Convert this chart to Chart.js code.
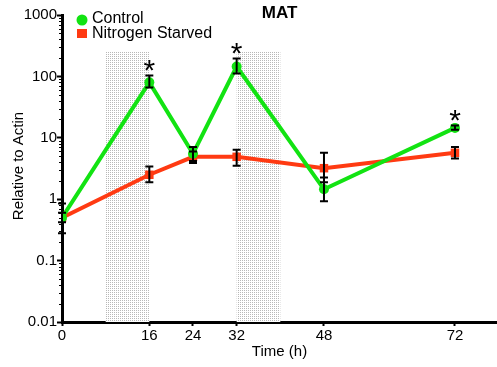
<!DOCTYPE html>
<html>
<head>
<meta charset="utf-8">
<title>MAT</title>
<script src="https://cdn.jsdelivr.net/npm/chart.js@4.4.1/dist/chart.umd.min.js"></script>
<style>
  html, body { margin: 0; padding: 0; background: #fff; }
  #wrap { width: 497px; height: 367px; position: relative; }
</style>
</head>
<body>
<div id="wrap"><canvas id="chart" width="497" height="367"></canvas></div>
<script>
// Expression of MAT relative to actin over time (log scale)
const hours = [0, 16, 24, 32, 48, 72];
const xTickValues = [0, 16, 24, 32, 48, 72];
const yTickValues = [0.01, 0.1, 1, 10, 100, 1000];
const yTickLabels = ['0.01', '0.1', '1', '10', '100', '1000'];

const seriesNames = ['Control', 'Nitrogen Starved'];
const controlMean = [0.5, 80, 5.5, 145, 1.45, 14.5];
const controlLow  = [0.42, 66, 4.2, 112, 0.93, 13.5];
const controlHigh = [0.6, 103, 7.1, 195, 2.26, 15.8];

const starvedMean = [0.5, 2.5, 4.9, 4.9, 3.2, 5.7];
const starvedLow  = [0.28, 1.88, 3.9, 3.5, 1.88, 4.6];
const starvedHigh = [0.85, 3.4, 6.0, 6.4, 5.7, 7.1];

// hours at which the control differs significantly
const significantHours = [16, 32, 72];

// dark periods (hours) shown as stippled bands
const darkStart = [8, 32];
const darkEnd   = [16, 40];
const darkTop = 250;

const GREEN = '#12e312';
const RED = '#ff3a12';
const FONT = "'Liberation Sans', Arial, sans-serif";

function points(means) {
  return hours.map((h, i) => ({ x: h, y: means[i] }));
}

// stipple pattern for the dark bands
function makeStipple(ctx) {
  const c = document.createElement('canvas');
  c.width = 2; c.height = 2;
  const p = c.getContext('2d');
  p.fillStyle = '#ffffff';
  p.fillRect(0, 0, 2, 2);
  p.fillStyle = '#b8b8b8';
  p.fillRect(0, 0, 1, 1);
  return ctx.createPattern(c, 'repeat');
}

const bandsPlugin = {
  id: 'bands',
  beforeDatasetsDraw(chart) {
    const { ctx, scales: { x, y } } = chart;
    ctx.save();
    ctx.fillStyle = makeStipple(ctx);
    for (let i = 0; i < darkStart.length; i++) {
      const x0 = x.getPixelForValue(darkStart[i]);
      const x1 = x.getPixelForValue(darkEnd[i]);
      const y0 = y.getPixelForValue(darkTop);
      const y1 = y.getPixelForValue(0.01);
      ctx.fillRect(x0, y0, x1 - x0, y1 - y0);
    }
    ctx.restore();
  }
};

const errorPlugin = {
  id: 'errorBars',
  afterDatasetsDraw(chart) {
    const { ctx, scales: { x, y } } = chart;
    const sets = [[starvedLow, starvedHigh], [controlLow, controlHigh]];
    ctx.save();
    ctx.strokeStyle = '#000';
    ctx.lineWidth = 2;
    const cap = 4;
    sets.forEach(([lo, hi]) => {
      hours.forEach((h, i) => {
        const px = x.getPixelForValue(h);
        const pl = y.getPixelForValue(lo[i]);
        const ph = y.getPixelForValue(hi[i]);
        ctx.beginPath();
        ctx.moveTo(px, pl); ctx.lineTo(px, ph);
        ctx.moveTo(px - cap, pl); ctx.lineTo(px + cap, pl);
        ctx.moveTo(px - cap, ph); ctx.lineTo(px + cap, ph);
        ctx.stroke();
      });
    });
    // significance markers above the control error bars
    ctx.fillStyle = '#000';
    ctx.font = '30px ' + FONT;
    ctx.textAlign = 'center';
    ctx.textBaseline = 'alphabetic';
    significantHours.forEach(h => {
      const i = hours.indexOf(h);
      const px = x.getPixelForValue(h);
      const py = y.getPixelForValue(controlHigh[i]) - 13;
      ctx.fillText('*', px, py + 17);
    });
    ctx.restore();
  }
};

const decorPlugin = {
  id: 'decor',
  afterDraw(chart) {
    const { ctx, chartArea, scales: { y } } = chart;
    ctx.save();
    // minor ticks on the log axis
    ctx.strokeStyle = '#000';
    ctx.lineWidth = 1;
    for (let d = -2; d < 3; d++) {
      for (let m = 2; m < 10; m++) {
        const py = Math.round(y.getPixelForValue(m * Math.pow(10, d))) + 0.5;
        ctx.beginPath();
        ctx.moveTo(chartArea.left - 3, py);
        ctx.lineTo(chartArea.left, py);
        ctx.stroke();
      }
    }
    // title
    ctx.fillStyle = '#000';
    ctx.textAlign = 'center';
    ctx.textBaseline = 'middle';
    ctx.font = 'bold 17px ' + FONT;
    ctx.fillText('MAT', (chartArea.left + chartArea.right) / 2, 13);
    // axis titles
    ctx.font = '15px ' + FONT;
    ctx.fillText('Time (h)', (chartArea.left + chartArea.right) / 2, 352);
    ctx.save();
    ctx.translate(19, 166);
    ctx.rotate(-Math.PI / 2);
    ctx.fillText('Relative to Actin', 0, 0);
    ctx.restore();
    // legend
    ctx.textAlign = 'left';
    ctx.font = '16px ' + FONT;
    ctx.fillStyle = GREEN;
    ctx.beginPath();
    ctx.arc(82, 20, 5.5, 0, Math.PI * 2);
    ctx.fill();
    ctx.fillStyle = RED;
    ctx.fillRect(77, 29, 10, 9);
    ctx.fillStyle = '#000';
    ctx.fillText(seriesNames[0], 92, 19);
    ctx.fillText(seriesNames[1], 92, 34);
    ctx.restore();
  }
};

new Chart(document.getElementById('chart'), {
  type: 'line',
  data: {
    datasets: [
      {
        label: seriesNames[0],
        data: points(controlMean),
        borderColor: GREEN,
        backgroundColor: GREEN,
        borderWidth: 4,
        pointStyle: 'circle',
        pointRadius: 5,
        pointBorderWidth: 0,
        tension: 0
      },
      {
        label: seriesNames[1],
        data: points(starvedMean),
        borderColor: RED,
        backgroundColor: RED,
        borderWidth: 4,
        pointStyle: 'rect',
        pointRadius: 6,
        pointBorderWidth: 0,
        tension: 0
      }
    ]
  },
  options: {
    responsive: false,
    animation: false,
    layout: { autoPadding: false, padding: { top: 15, right: 0, left: 0, bottom: 0 } },
    plugins: {
      legend: { display: false },
      title: { display: false },
      tooltip: { enabled: false }
    },
    scales: {
      x: {
        type: 'linear',
        min: 0,
        max: 79.7,
        afterFit(s) { s.height = 45; s.paddingLeft = 0; s.paddingRight = 0; },
        afterBuildTicks(s) { s.ticks = xTickValues.map(v => ({ value: v })); },
        grid: { drawOnChartArea: false, drawTicks: true, tickLength: 4, tickWidth: 2, color: '#000' },
        border: { color: '#000', width: 3 },
        ticks: { color: '#000', font: { family: FONT, size: 15 }, padding: 1, maxRotation: 0, autoSkip: false }
      },
      y: {
        type: 'logarithmic',
        min: 0.01,
        max: 1000,
        afterFit(s) { s.width = 62; s.paddingTop = 0; s.paddingBottom = 0; },
        afterBuildTicks(s) { s.ticks = yTickValues.map(v => ({ value: v, major: true })); },
        grid: { drawOnChartArea: false, drawTicks: true, tickLength: 5, tickWidth: 2, color: '#000' },
        border: { color: '#000', width: 3 },
        ticks: {
          color: '#000',
          font: { family: FONT, size: 15 },
          padding: 0,
          autoSkip: false,
          callback(v) {
            const i = yTickValues.indexOf(v);
            return i >= 0 ? yTickLabels[i] : '';
          }
        }
      }
    }
  },
  plugins: [bandsPlugin, errorPlugin, decorPlugin]
});
</script>
</body>
</html>
